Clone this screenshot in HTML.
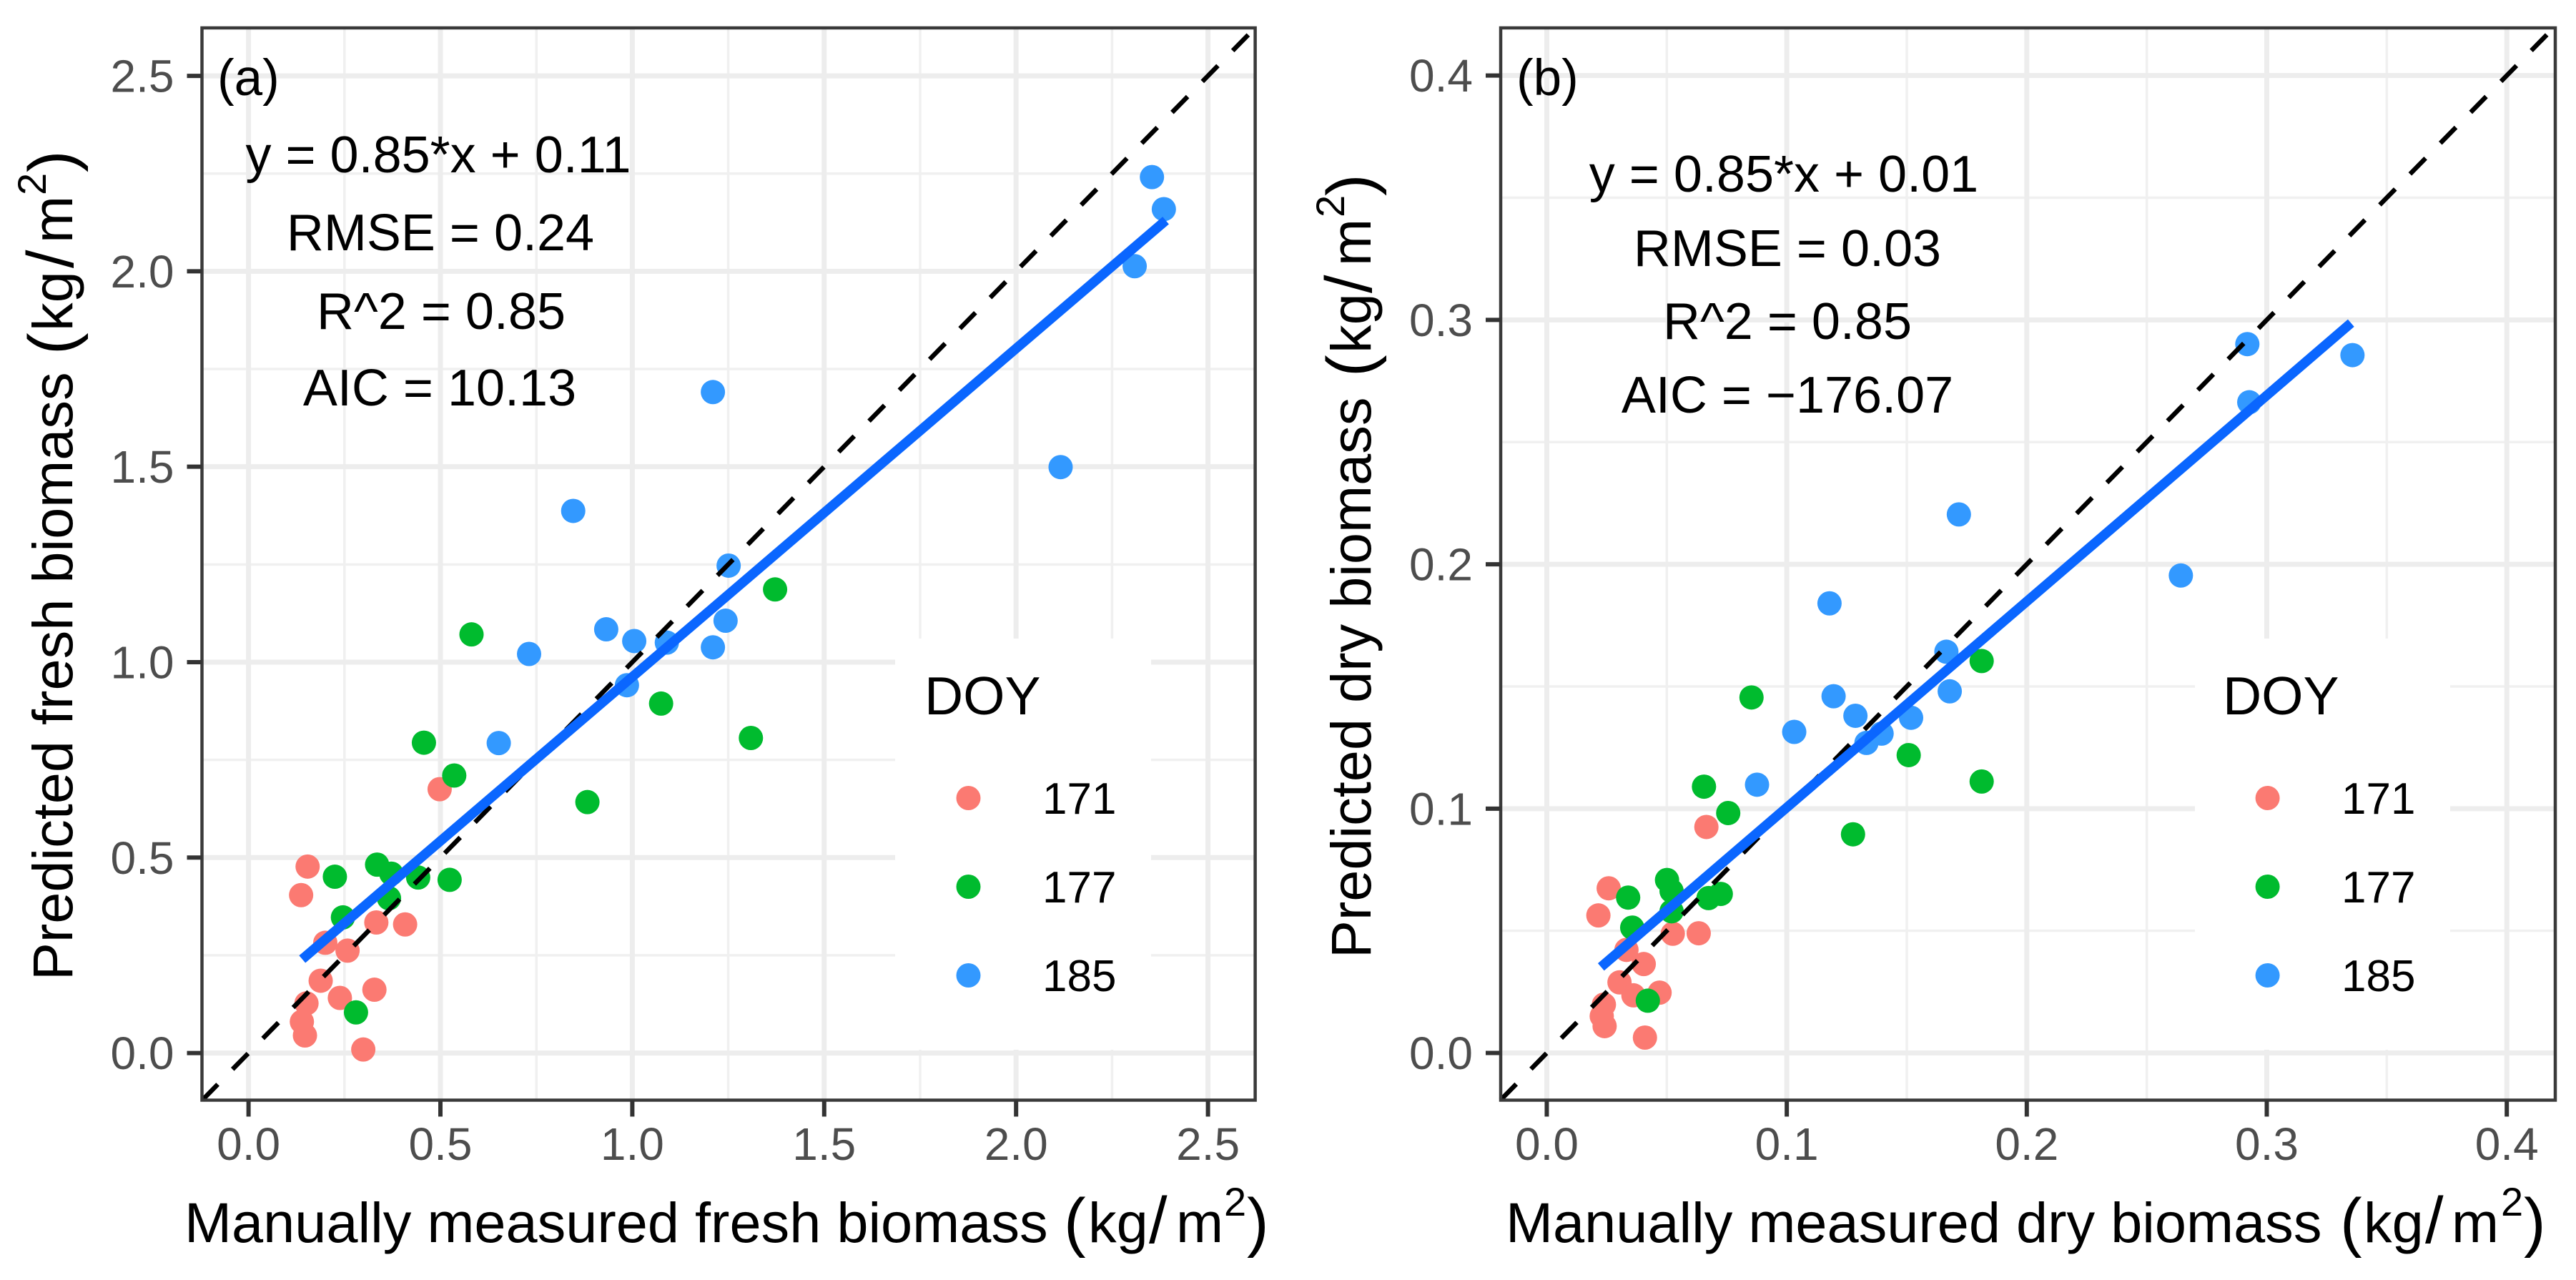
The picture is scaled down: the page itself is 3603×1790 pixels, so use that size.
<!DOCTYPE html>
<html lang="en">
<head>
<meta charset="utf-8">
<title>Predicted versus manually measured biomass</title>
<style>
html,body{margin:0;padding:0;background:#fff;width:3603px;height:1790px;overflow:hidden}
svg{display:block;font-family:"Liberation Sans",Arial,sans-serif}
.ann{font-size:72px;fill:#000;text-anchor:middle}
.tag{font-size:71px;fill:#000}
.title{font-size:79.3px;fill:#000}
.paren{font-size:92px;fill:#000;font-weight:normal}
.sup{font-size:56px;fill:#000}
.leg-title{font-size:75px;fill:#000}
.leg-label{font-size:62px;fill:#000}
</style>
</head>
<body>
<svg id="chart" xmlns="http://www.w3.org/2000/svg" width="3603" height="1790" viewBox="0 0 3603 1790">
  <rect x="0" y="0" width="3603" height="1790" fill="#fff"/>
  <g id="panel-a"></g>
  <g id="panel-b"></g>

  <g>
    <text class="tag" x="304" y="133">(a)</text>
    <text class="ann" x="613" y="241">y = 0.85*x + 0.11</text>
    <text class="ann" x="616" y="350">RMSE = 0.24</text>
    <text class="ann" x="617" y="460">R^2 = 0.85</text>
    <text class="ann" x="615" y="567">AIC = 10.13</text>
  </g>
  <g>
    <text class="tag" x="2121" y="133">(b)</text>
    <text class="ann" x="2495" y="268">y = 0.85*x + 0.01</text>
    <text class="ann" x="2500" y="372">RMSE = 0.03</text>
    <text class="ann" x="2500" y="474">R^2 = 0.85</text>
    <text class="ann" x="2500" y="577">AIC = −176.07</text>
  </g>

  <g>
    <text class="leg-title" x="1293" y="999">DOY</text>
    <circle cx="1354.5" cy="1116" r="17" fill="#fb7a72"/>
    <text class="leg-label" x="1458" y="1138">171</text>
    <circle cx="1354.5" cy="1240" r="17" fill="#00bb2e"/>
    <text class="leg-label" x="1458" y="1262">177</text>
    <circle cx="1354.5" cy="1364" r="17" fill="#3399ff"/>
    <text class="leg-label" x="1458" y="1386">185</text>
  </g>
  <g>
    <text class="leg-title" x="3109" y="999">DOY</text>
    <circle cx="3171.6" cy="1116" r="17" fill="#fb7a72"/>
    <text class="leg-label" x="3275" y="1138">171</text>
    <circle cx="3171.6" cy="1240" r="17" fill="#00bb2e"/>
    <text class="leg-label" x="3275" y="1262">177</text>
    <circle cx="3171.6" cy="1364" r="17" fill="#3399ff"/>
    <text class="leg-label" x="3275" y="1386">185</text>
  </g>

  <g>
    <text class="title" x="258" y="1737">Manually measured fresh biomass</text>
    <text class="paren" x="1488" y="1740">(</text>
    <text class="title" x="1522" y="1737">kg</text>
    <text class="paren" x="1607" y="1738">/</text>
    <text class="title" x="1645" y="1737">m</text>
    <text class="sup" x="1712" y="1700">2</text>
    <text class="paren" x="1744" y="1740">)</text>
  </g>
  <g>
    <text class="title" x="2106" y="1737">Manually measured dry biomass</text>
    <text class="paren" x="3273" y="1740">(</text>
    <text class="title" x="3306" y="1737">kg</text>
    <text class="paren" x="3392" y="1738">/</text>
    <text class="title" x="3429" y="1737">m</text>
    <text class="sup" x="3498" y="1700">2</text>
    <text class="paren" x="3530" y="1740">)</text>
  </g>
  <g transform="translate(101 1371) rotate(-90)">
    <text class="title" x="0" y="0">Predicted fresh biomass</text>
    <text class="paren" x="875" y="3">(</text>
    <text class="title" x="908" y="0">kg</text>
    <text class="paren" x="996" y="1">/</text>
    <text class="title" x="1031" y="0">m</text>
    <text class="sup" x="1098" y="-37">2</text>
    <text class="paren" x="1130" y="3">)</text>
  </g>
  <g transform="translate(1917 1340) rotate(-90)">
    <text class="title" x="0" y="0">Predicted dry biomass</text>
    <text class="paren" x="813" y="3">(</text>
    <text class="title" x="846" y="0">kg</text>
    <text class="paren" x="930" y="1">/</text>
    <text class="title" x="968" y="0">m</text>
    <text class="sup" x="1036" y="-37">2</text>
    <text class="paren" x="1066" y="3">)</text>
  </g>
</svg>

<script>
/* Panel (a): fresh biomass, kg/m2 */
const aXTickLabels = ['0.0', '0.5', '1.0', '1.5', '2.0', '2.5'];
const aYTickLabels = ['0.0', '0.5', '1.0', '1.5', '2.0', '2.5'];
const aMinorTicks = [0.25, 0.75, 1.25, 1.75, 2.25];
const a171x = [0.154, 0.137, 0.200, 0.258, 0.333, 0.408, 0.188, 0.151, 0.238, 0.328, 0.139, 0.147, 0.299, 0.498];
const a171y = [0.477, 0.404, 0.282, 0.262, 0.334, 0.329, 0.185, 0.127, 0.141, 0.162, 0.080, 0.045, 0.009, 0.675];
const a177x = [0.225, 0.335, 0.372, 0.442, 0.524, 0.366, 0.246, 0.280, 0.457, 0.536, 0.883, 1.075, 0.581, 1.372, 1.309];
const a177y = [0.451, 0.482, 0.459, 0.449, 0.443, 0.396, 0.347, 0.104, 0.794, 0.710, 0.642, 0.894, 1.071, 1.186, 0.806];
const a185x = [2.354, 2.385, 2.309, 2.116, 1.251, 1.243, 1.210, 0.846, 0.731, 0.932, 1.005, 1.090, 1.210, 0.652, 0.986];
const a185y = [2.241, 2.159, 2.013, 1.499, 1.247, 1.106, 1.691, 1.387, 1.021, 1.084, 1.054, 1.050, 1.038, 0.793, 0.941];
const aFitX = [0.14, 2.39];
const aFitY = [0.24, 2.13];

/* Panel (b): dry biomass, kg/m2 */
const bXTickLabels = ['0.0', '0.1', '0.2', '0.3', '0.4'];
const bYTickLabels = ['0.0', '0.1', '0.2', '0.3', '0.4'];
const bMinorTicks = [0.05, 0.15, 0.25, 0.35];
const b171x = [0.0258, 0.0215, 0.0332, 0.0404, 0.0525, 0.0633, 0.0665, 0.0303, 0.0470, 0.0361, 0.0238, 0.0229, 0.0241, 0.0409];
const b171y = [0.0674, 0.0563, 0.0422, 0.0364, 0.0488, 0.0490, 0.0925, 0.0289, 0.0247, 0.0236, 0.0198, 0.0151, 0.0110, 0.0063];
const b177x = [0.0339, 0.0501, 0.0520, 0.0520, 0.0356, 0.0674, 0.0725, 0.0756, 0.0655, 0.0853, 0.1276, 0.1508, 0.0421, 0.1812, 0.1812];
const b177y = [0.0636, 0.0708, 0.0663, 0.0580, 0.0513, 0.0634, 0.0651, 0.0982, 0.1090, 0.1455, 0.0895, 0.1219, 0.0214, 0.1604, 0.1111];
const b185x = [0.0876, 0.1031, 0.1195, 0.1286, 0.1332, 0.1395, 0.1518, 0.1679, 0.1665, 0.1178, 0.1717, 0.2919, 0.2927, 0.3357, 0.2642];
const b185y = [0.1098, 0.1314, 0.1460, 0.1380, 0.1269, 0.1307, 0.1372, 0.1480, 0.1642, 0.1840, 0.2204, 0.2901, 0.2663, 0.2856, 0.1954];
const bFitX = [0.0226, 0.3351];
const bFitY = [0.0352, 0.2987];

const SVGNS = 'http://www.w3.org/2000/svg';
const GROUP_COLORS = {171: '#fb7a72', 177: '#00bb2e', 185: '#3399ff'};

function mk(parent, tag, attrs) {
  const el = document.createElementNS(SVGNS, tag);
  for (const k in attrs) el.setAttribute(k, attrs[k]);
  parent.appendChild(el);
  return el;
}

function drawPanel(p) {
  const g = document.getElementById(p.id);
  const xS = v => p.left + (v - p.xMin) / (p.xMax - p.xMin) * (p.right - p.left);
  const yS = v => p.bottom - (v - p.yMin) / (p.yMax - p.yMin) * (p.bottom - p.top);

  /* background gridlines */
  p.minor.forEach(v => {
    if (v < p.yMax) {
      const h = mk(g, 'line', {x1: p.left, x2: p.right, y1: yS(v), y2: yS(v), stroke: '#f0f0f0', 'stroke-width': 3.5});
      
      
    }
    const w = mk(g, 'line', {x1: xS(v), x2: xS(v), y1: p.top, y2: p.bottom, stroke: '#f0f0f0', 'stroke-width': 3.5});
    
    
  });
  p.yTicks.forEach(t => {
    const h = mk(g, 'line', {x1: p.left, x2: p.right, y1: yS(+t), y2: yS(+t), stroke: '#ededed', 'stroke-width': 7});
    
    
  });
  p.xTicks.forEach(t => {
    const w = mk(g, 'line', {x1: xS(+t), x2: xS(+t), y1: p.top, y2: p.bottom, stroke: '#ededed', 'stroke-width': 7});
    
    
  });

  /* legend background masks the grid */
  const bg = mk(g, 'rect', {x: p.legX, y: 893, width: p.legW, height: 575, fill: '#fff'});
  
  

  /* points */
  p.series.forEach(s => {
    s.x.forEach((v, i) => {
      const c = mk(g, 'circle', {cx: xS(v), cy: yS(s.y[i]), r: 17, fill: GROUP_COLORS[s.doy]});
      
      
    });
  });

  /* one-to-one reference line */
  const lo = Math.max(p.xMin, p.yMin);
  const hi = Math.min(p.xMax, p.yMax);
  const ref = mk(g, 'line', {x1: xS(lo), y1: yS(lo), x2: xS(hi), y2: yS(hi), stroke: '#000', 'stroke-width': 6.5, 'stroke-dasharray': '31 29.5'});
  
  

  /* fitted regression line */
  const fit = mk(g, 'line', {x1: xS(p.fitX[0]), y1: yS(p.fitY[0]), x2: xS(p.fitX[1]), y2: yS(p.fitY[1]), stroke: '#0a66ff', 'stroke-width': 13.5});
  
  

  /* panel border */
  const border = mk(g, 'rect', {x: p.left, y: p.top, width: p.right - p.left, height: p.bottom - p.top, fill: 'none', stroke: '#3a3a3a', 'stroke-width': 4.5});
  
  

  /* axis ticks and labels */
  p.xTicks.forEach(t => {
    const m = mk(g, 'line', {x1: xS(+t), x2: xS(+t), y1: p.bottom, y2: p.bottom + 23, stroke: '#333', 'stroke-width': 6});
    
    
    const l = mk(g, 'text', {x: xS(+t), y: 1622, 'text-anchor': 'middle', 'font-size': 64, fill: '#4d4d4d'});
    
    
    l.textContent = t;
  });
  p.yTicks.forEach(t => {
    const m = mk(g, 'line', {x1: p.left - 21, x2: p.left, y1: yS(+t), y2: yS(+t), stroke: '#333', 'stroke-width': 6});
    
    
    const l = mk(g, 'text', {x: p.left - 39, y: yS(+t) + 22.5, 'text-anchor': 'end', 'font-size': 64, fill: '#4d4d4d'});
    
    
    l.textContent = t;
  });
}

drawPanel({
  id: 'panel-a', left: 282.5, right: 1755.6, top: 39, bottom: 1538.5,
  xMin: -0.1213, xMax: 2.6230, yMin: -0.1206, yMax: 2.6227,
  xTicks: aXTickLabels, yTicks: aYTickLabels, minor: aMinorTicks,
  legX: 1252, legW: 358,
  fitX: aFitX, fitY: aFitY,
  series: [{doy: 171, x: a171x, y: a171y}, {doy: 177, x: a177x, y: a177y}, {doy: 185, x: a185x, y: a185y}]
});
drawPanel({
  id: 'panel-b', left: 2099, right: 3574, top: 39, bottom: 1538.5,
  xMin: -0.0192, xMax: 0.4202, yMin: -0.0193, yMax: 0.4195,
  xTicks: bXTickLabels, yTicks: bYTickLabels, minor: bMinorTicks,
  legX: 3070, legW: 357,
  fitX: bFitX, fitY: bFitY,
  series: [{doy: 171, x: b171x, y: b171y}, {doy: 177, x: b177x, y: b177y}, {doy: 185, x: b185x, y: b185y}]
});
</script>
</body>
</html>
